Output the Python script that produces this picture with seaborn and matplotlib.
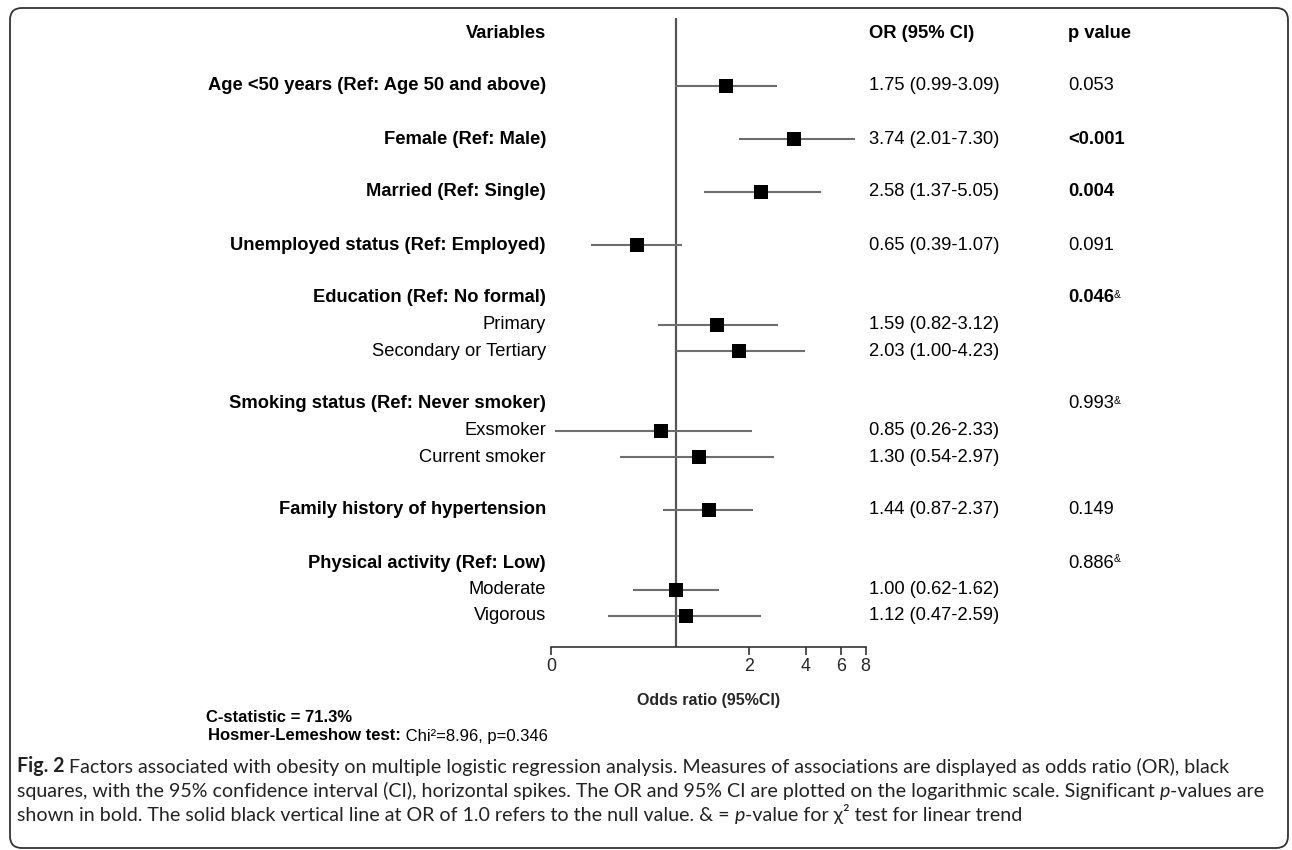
import numpy as np
import pandas as pd
import matplotlib
matplotlib.use("Agg")
import matplotlib.pyplot as plt
import matplotlib.transforms as mtransforms
from matplotlib.patches import FancyBboxPatch
import seaborn as sns

# ---------------- data ----------------
labels = ["Age <50 years (Ref: Age 50 and above)", "Female (Ref: Male)", "Married (Ref: Single)",
          "Unemployed status (Ref: Employed)", "Education (Ref: No formal)", "Primary",
          "Secondary or Tertiary", "Smoking status (Ref: Never smoker)", "Exsmoker",
          "Current smoker", "Family history of hypertension", "Physical activity (Ref: Low)",
          "Moderate", "Vigorous"]
is_sub = [False, False, False, False, False, True, True, False, True, True, False, False, True, True]
or_vals = [1.75, 3.74, 2.58, 0.65, np.nan, 1.59, 2.03, np.nan, 0.85, 1.30, 1.44, np.nan, 1.00, 1.12]
ci_low = [0.99, 2.01, 1.37, 0.39, np.nan, 0.82, 1.00, np.nan, 0.26, 0.54, 0.87, np.nan, 0.62, 0.47]
ci_high = [3.09, 7.30, 5.05, 1.07, np.nan, 3.12, 4.23, np.nan, 2.33, 2.97, 2.37, np.nan, 1.62, 2.59]
p_values = ["0.053", "<0.001", "0.004", "0.091", "0.046", "", "", "0.993", "", "", "0.149", "0.886", "", ""]
p_bold = [False, True, True, False, True, False, False, False, False, False, False, False, False, False]
p_trend = [False, False, False, False, True, False, False, True, False, False, False, True, False, False]
tick_labels = ["0", "2", "4", "6", "8"]

# ---------------- layout ----------------
W, H = 1292, 850
sns.set_theme(style="white")
plt.rcParams["font.family"] = ["Liberation Sans", "DejaVu Sans"]
plt.rcParams["text.color"] = "black"

fig = plt.figure(figsize=(W / 100, H / 100), dpi=100)
fig.patch.set_facecolor("white")

# row positions (header = 0, main rows 2 apart, sub rows 1 apart)
ypos = []
u = 0
for s in is_sub:
    u += 1 if s else 2
    ypos.append(u)

df = pd.DataFrame({"label": labels, "y": ypos, "OR": or_vals, "lo": ci_low, "hi": ci_high})

x_left, x_right = 0.25, 8.25
px_left, px_right = 551.0, 865.6
px_top, px_bot = 18.0, 647.0
y0_px, row_px = 33.0, 26.5
ax = fig.add_axes([px_left / W, 1 - px_bot / H, (px_right - px_left) / W, (px_bot - px_top) / H])
ax.set_xscale("log")
ax.set_xlim(x_left, x_right)
ax.set_ylim((px_bot - y0_px) / row_px, (px_top - y0_px) / row_px)

# CI lines
d = df.dropna()
ax.hlines(d["y"], d["lo"], d["hi"], color="#6e6e6e", lw=1.5, zorder=2)
# null line
ax.axvline(1.0, color="#555555", lw=1.6, zorder=1)
# squares
sns.scatterplot(data=d, x="OR", y="y", marker="s", s=110, color="black",
                edgecolor="black", linewidth=0, ax=ax, zorder=3, legend=False)

ax.set_xticks([float(t) + 0.25 for t in tick_labels])
ax.set_xticklabels(tick_labels)
ax.xaxis.set_minor_locator(matplotlib.ticker.NullLocator())
ax.tick_params(axis="x", direction="out", length=6, width=1.2, color="#333333",
               labelsize=12.8, pad=2, bottom=True)
ax.tick_params(axis="y", left=False, labelleft=False)
for s in ["top", "right", "left"]:
    ax.spines[s].set_visible(False)
ax.spines["bottom"].set_color("#333333")
ax.spines["bottom"].set_linewidth(1.2)
ax.set_xlabel("Odds ratio (95%CI)", fontsize=11.5, fontweight="bold", labelpad=13)
ax.set_ylabel("")

tr = mtransforms.blended_transform_factory(fig.transFigure, ax.transData)
fs = 13.2
lab_x = 546 / W
or_x = 869 / W
p_x = 1068 / W

ax.text(lab_x, 0, "Variables", transform=tr, ha="right", va="center", fontsize=fs, fontweight="bold")
ax.text(or_x, 0, "OR (95% CI)", transform=tr, ha="left", va="center", fontsize=fs, fontweight="bold")
ax.text(p_x, 0, "p value", transform=tr, ha="left", va="center", fontsize=fs, fontweight="bold")

for i, row in df.iterrows():
    ax.text(lab_x, row["y"], row["label"], transform=tr, ha="right", va="center", fontsize=fs,
            fontweight="normal" if is_sub[i] else "bold")
    if not np.isnan(row["OR"]):
        ax.text(or_x, row["y"], f"{row['OR']:.2f} ({row['lo']:.2f}-{row['hi']:.2f})",
                transform=tr, ha="left", va="center", fontsize=fs)
    if p_values[i]:
        t = ax.text(p_x, row["y"], p_values[i], transform=tr, ha="left", va="center", fontsize=fs,
                    fontweight="bold" if p_bold[i] else "normal")
        if p_trend[i]:
            ax.annotate("&", xy=(1.0, 1.0), xycoords=t, ha="left", va="top", fontsize=7.5)

# model fit notes
t1 = fig.text(206 / W, 1 - 718 / H, "C-statistic = 71.3%", ha="left", va="center",
              fontsize=12, fontweight="bold")
t2 = fig.text(208 / W, 1 - 736 / H, "Hosmer-Lemeshow test:", ha="left", va="center",
              fontsize=12, fontweight="bold")
ax.annotate(" Chi\u00b2=8.96, p=0.346", xy=(1.0, 0.0), xycoords=t2, ha="left", va="bottom", fontsize=12)

# caption
cap_font = ["Lato", "DejaVu Sans"]
cap_fs = 14.1
caption = [
    [("Fig. 2", "bold", "normal"),
     (" Factors associated with obesity on multiple logistic regression analysis. Measures of associations are displayed as odds ratio (OR), black", "normal", "normal")],
    [("squares, with the 95% confidence interval (CI), horizontal spikes. The OR and 95% CI are plotted on the logarithmic scale. Significant ", "normal", "normal"),
     ("p", "normal", "italic"), ("-values are", "normal", "normal")],
    [("shown in bold. The solid black vertical line at OR of 1.0 refers to the null value. & = ", "normal", "normal"),
     ("p", "normal", "italic"), ("-value for \u03c7\u00b2 test for linear trend", "normal", "normal")],
]
line_y = [772, 797, 821]
for segs, ly in zip(caption, line_y):
    prev = None
    for txt, wt, st in segs:
        if prev is None:
            prev = fig.text(17 / W, 1 - ly / H, txt, ha="left", va="baseline", fontsize=cap_fs,
                            fontweight=wt, fontstyle=st, family=cap_font, color="#222222")
        else:
            prev = ax.annotate(txt, xy=(1.0, 0.0), xycoords=prev, ha="left", va="bottom",
                               fontsize=cap_fs, fontweight=wt, fontstyle=st, family=cap_font,
                               color="#222222", annotation_clip=False)

# rounded frame
box = FancyBboxPatch((0.10, 0.02), 12.78, 8.40, boxstyle="round,pad=0,rounding_size=0.12",
                     transform=fig.dpi_scale_trans, fill=False, edgecolor="#333333", lw=1.3)
fig.add_artist(box)

fig.savefig("out.png", dpi=100, facecolor="white")
